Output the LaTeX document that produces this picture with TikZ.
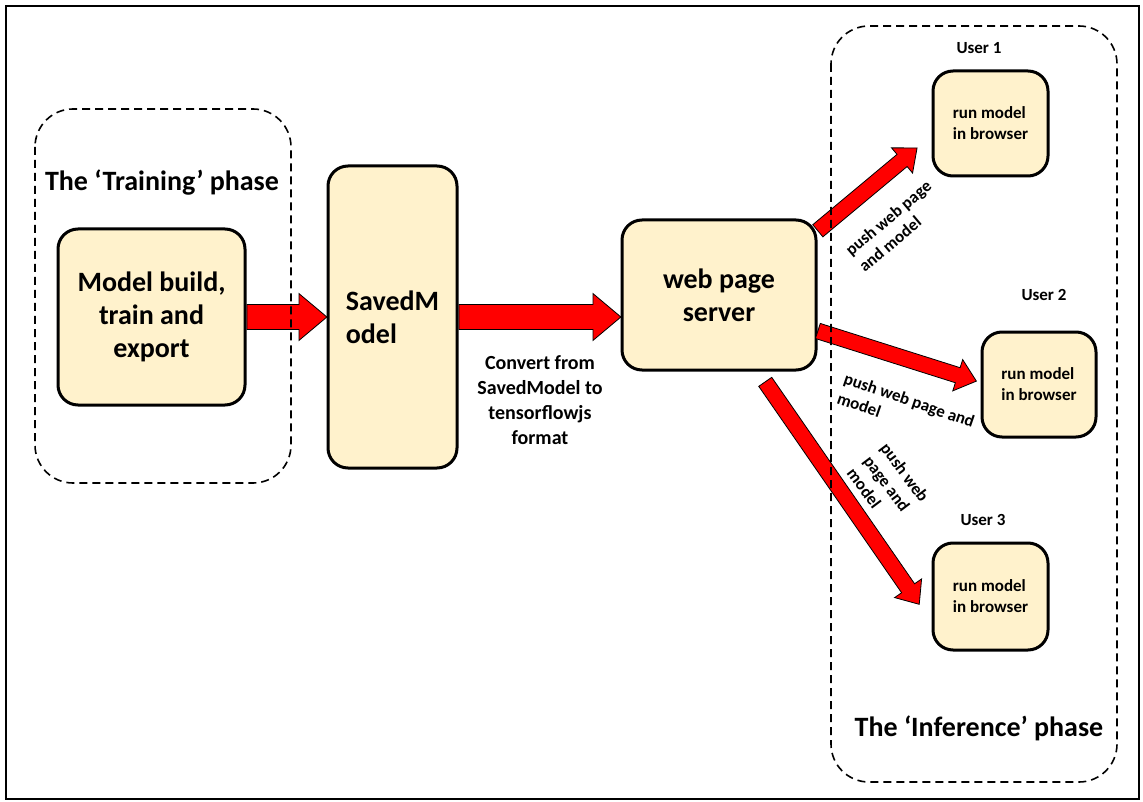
\documentclass[tikz,border=0pt]{standalone}
\usepackage{fontspec}
\setmainfont{Carlito}
\usetikzlibrary{calc,shapes.arrows}
\definecolor{cream}{RGB}{255,242,204}
\tikzset{
  box/.style={draw=black,line width=3pt,fill=cream,rounded corners=20pt,inner sep=0pt},
  bigtxt/.style={font=\fontsize{28}{33}\selectfont\bfseries},
  midtxt/.style={font=\fontsize{20}{25}\selectfont\bfseries},
  smalltxt/.style={font=\fontsize{17}{21}\selectfont\bfseries},
  phase/.style={draw=black,line width=1.6pt,dash pattern=on 8pt off 5pt,rounded corners=38pt},
  fat/.style={single arrow,draw=black,fill=red,line width=0.8pt,inner xsep=0pt,inner ysep=12pt,
    single arrow head extend=11pt,single arrow head indent=0pt,single arrow tip angle=80},
  slimfat/.style={fat,inner ysep=7.5pt,single arrow head extend=8.5pt}
}
\newcommand{\fatarrow}[3][fat]{%
  \path let \p1=($(#3)-(#2)$), \n1={atan2(\y1,\x1)}, \n2={veclen(\x1,\y1)} in
    node[#1,minimum height=\n2,rotate=\n1,anchor=tail] at (#2) {};}
\begin{document}
\begin{tikzpicture}[x=1pt,y=-1pt]
            \useasboundingbox (0,0) rectangle (1143,802);
            \begin{scope}[every node/.style={box}]
            \node[bigtxt,align=center,minimum width=187pt,minimum height=176pt] (build) at (151.5,317) {Model build,\\train and\\export};
            \node[bigtxt,align=left,minimum width=129pt,minimum height=302pt] (saved) at (392.5,317) {SavedM\\odel};
            \node[bigtxt,align=center,minimum width=194pt,minimum height=150pt] (server) at (719,295) {web page\\server};
            \node[smalltxt,align=left,minimum width=115pt,minimum height=105pt] (user1) at (990.5,123.5) {run model\\in browser};
            \node[smalltxt,align=left,minimum width=114pt,minimum height=105pt] (user2) at (1039,384.5) {run model\\in browser};
            \node[smalltxt,align=left,minimum width=115pt,minimum height=107pt] (user3) at (990.5,596.5) {run model\\in browser};
            \end{scope}
            \coordinate (t1) at (917,148);
            \coordinate (t2) at (976,381);
            \coordinate (s3) at ($(server.south)+(46,10)$);
            \coordinate (t3) at (919,604);
            \fatarrow{build.east}{saved.west}
            \fatarrow{saved.east}{server.west |- saved.east}
            \fatarrow[slimfat]{server.33}{t1}
            \fatarrow[slimfat]{server.-20}{t2}
            \fatarrow[slimfat]{s3}{t3}
            \begin{scope}[every node/.style={inner sep=0pt}]
            \node[bigtxt] (trainlbl) at (162,183) {The ‘Training’ phase};
            \node[bigtxt] (inferlbl) at (979,728) {The ‘Inference’ phase};
            \node[midtxt,align=center] (convert) at (540,400) {Convert from\\SavedModel to\\tensorflowjs\\format};
            \node[smalltxt] (u1lbl) at (979,48) {User 1};
            \node[smalltxt] (u2lbl) at (1044,295) {User 2};
            \node[smalltxt] (u3lbl) at (983,520) {User 3};
            \node[smalltxt,align=left,rotate=40] (push1) at (895,226) {push web page\\and model};
            \node[smalltxt,align=left,rotate=-19] (push2) at (906,410) {push web page and\\model};
            \node[smalltxt,align=left,rotate=-53] (push3) at (888,485) {push web\\page and\\model};
            \end{scope}
            \draw[phase] (35,109) rectangle (291,483);
            \draw[phase] (831,26) rectangle (1117,782);
            \draw[line width=2pt] (6,6) rectangle (1139,799);
        \end{tikzpicture}
\end{document}
